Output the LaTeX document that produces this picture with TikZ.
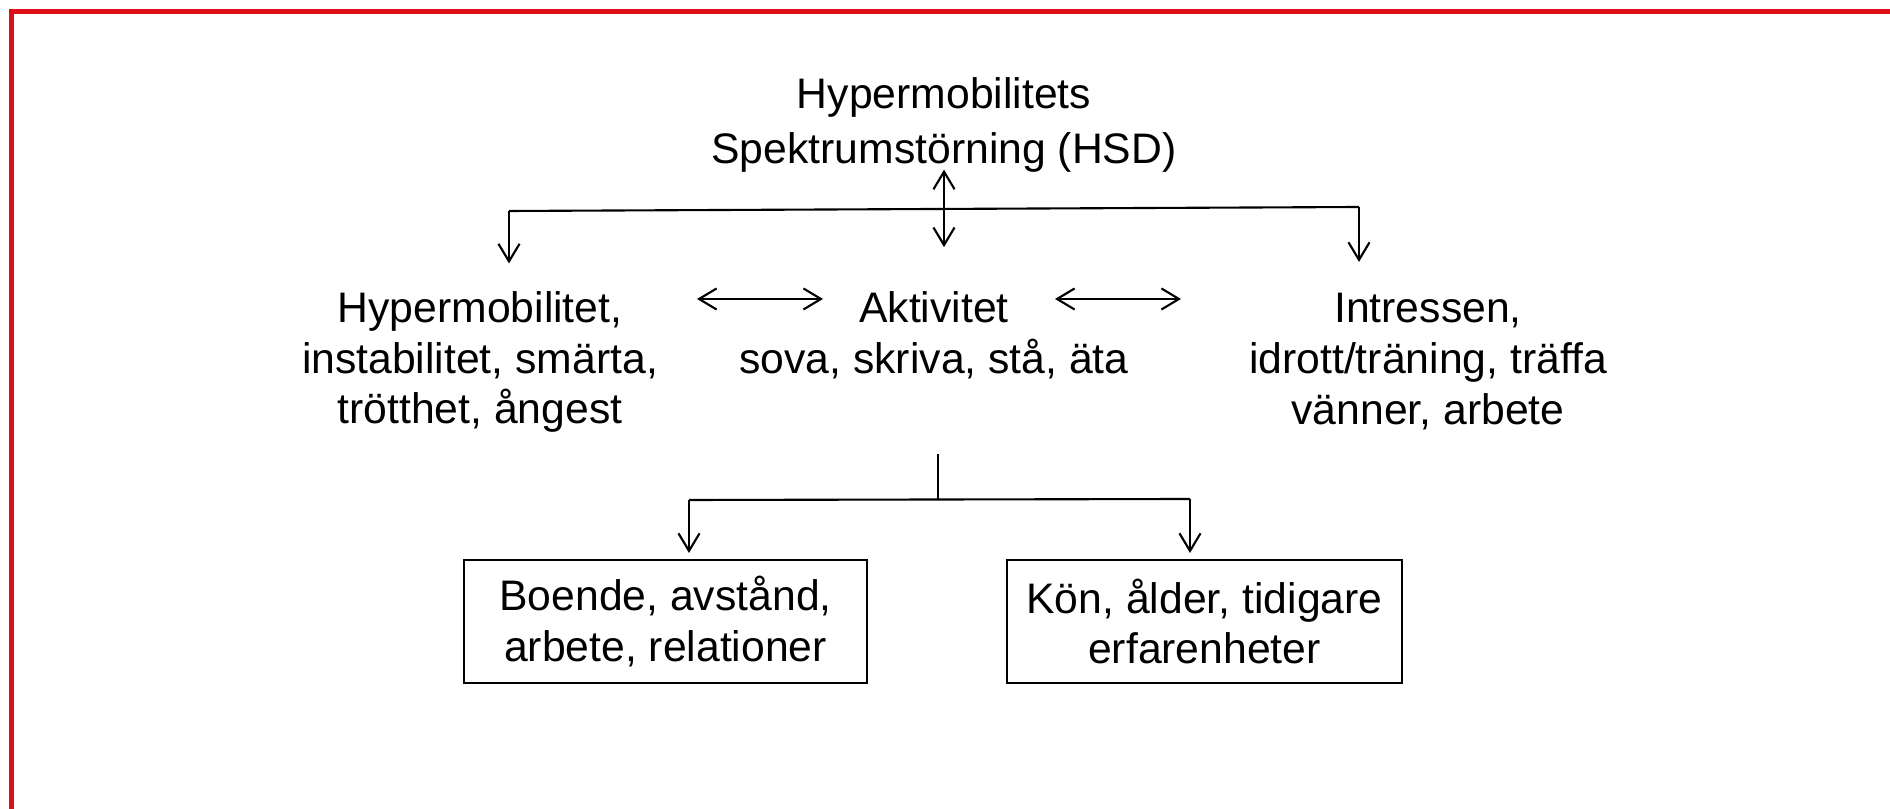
\documentclass[tikz,border=0pt]{standalone}
\usepackage{fontspec}
\setmainfont{Liberation Sans}
\usetikzlibrary{arrows.meta, positioning}
\definecolor{ramrod}{RGB}{221,14,23}

\tikzset{
    txt/.style={align=center, inner sep=0pt, font=\fontsize{12.15}{14.5}\selectfont},
    ruta/.style={draw, line width=0.6pt, minimum width=4.03cm, minimum height=1.23cm, align=center, inner sep=0pt, font=\fontsize{12.15}{14.3}\selectfont},
    linje/.style={line width=0.6pt},
    pil/.style={linje, -{Straight Barb[length=5pt, width=6pt]}},
    dpil/.style={linje, {Straight Barb[length=5pt, width=6pt]}-{Straight Barb[length=5pt, width=6pt]}}
}

\begin{document}
\begin{tikzpicture}
    \useasboundingbox (0,0) rectangle (18.9,-8.09);

    % Ram
    \draw[ramrod, line width=1.45pt] (0.115,-8.09) -- (0.115,-0.115) -- (18.9,-0.115);

    \node[txt, font=\fontsize{12.15}{15.4}\selectfont] (hsd) at (9.44,-1.25) {Hypermobilitets\\Spektrumstörning (HSD)};
    \node[txt] (hyp) at (4.80,-3.62) {Hypermobilitet,\\instabilitet, smärta,\\trötthet, ångest};
    \node[txt] (akt) at (9.34,-3.355) {Aktivitet\\sova, skriva, stå, äta};
    \node[txt] (intr) at (14.28,-3.62) {Intressen,\\idrott/träning, träffa\\vänner, arbete};

    \node[ruta] (boende) at (6.655,-6.215) {Boende, avstånd,\\arbete, relationer};
    \node[ruta, minimum width=3.95cm] (kon) at (12.045,-6.215) {Kön, ålder, tidigare\\erfarenheter};

    % Fördelning uppe
    \coordinate (v1) at (5.09,-2.11);
    \coordinate (h1) at (13.59,-2.07);
    \draw[linje] (v1) -- (h1);
    \draw[pil, shorten >=0.27cm] (v1) -- (v1 |- hyp.north);
    \draw[pil, shorten >=0.31cm] (h1) -- (h1 |- intr.north);
    \draw[dpil, shorten <=-0.03cm, shorten >=0.44cm] (hsd.south) -- (hsd.south |- akt.north);

    % Pilar mellan leden
    \coordinate (a1) at (6.97,-2.99);
    \coordinate (a2) at (8.23,-2.99);
    \coordinate (b1) at (10.55,-2.99);
    \coordinate (b2) at (11.81,-2.99);
    \draw[dpil] (a1) -- (a2);
    \draw[dpil] (b1) -- (b2);

    % Fördelning nere
    \coordinate (m) at (9.38,-4.54);
    \coordinate (m2) at (9.38,-4.99);
    \coordinate (l2) at (6.89,-5.00);
    \coordinate (r2) at (11.90,-4.99);
    \draw[linje] (m) -- (m2);
    \draw[linje] (l2) -- (r2);
    \draw[pil, shorten >=0.06cm] (l2) -- (l2 |- boende.north);
    \draw[pil, shorten >=0.06cm] (r2) -- (r2 |- kon.north);

\end{tikzpicture}
\end{document}
